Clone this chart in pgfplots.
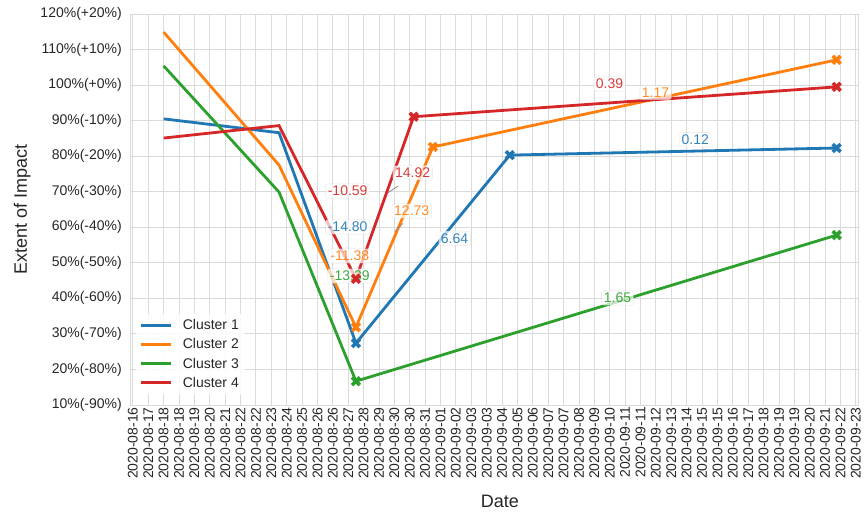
\documentclass[border=0pt]{standalone}
\usepackage{pgfplots}
\pgfplotsset{compat=1.18}
\usepackage{fontspec}
\setmainfont{Liberation Sans}
\usetikzlibrary{calc}
\definecolor{c1}{HTML}{1F77B4}
\definecolor{c2}{HTML}{FF7F0E}
\definecolor{c3}{HTML}{2CA02C}
\definecolor{c4}{HTML}{D62728}
\definecolor{gridc}{HTML}{DADADA}
\definecolor{txt}{HTML}{262626}
\tikzset{ann/.style={fill=white, fill opacity=0.7, text opacity=0.9, draw=black!20, draw opacity=0.5, rounded corners=2bp, inner sep=2.2bp, font=\fontsize{14bp}{14bp}\selectfont}}
\begin{document}
\begin{tikzpicture}
\begin{axis}[name=ax, scale only axis, width=728bp, height=391bp,
  xmin=16.25, xmax=54.11, ymin=10, ymax=120,
  xtick={16.4,17.2,18.0,18.8,19.6,20.4,21.2,22.0,22.8,23.6,24.4,25.2,26.0,26.8,27.6,28.4,29.2,30.0,30.8,31.6,32.4,33.2,34.0,34.8,35.6,36.4,37.2,38.0,38.8,39.6,40.4,41.2,42.0,42.8,43.6,44.4,45.2,46.0,46.8,47.6,48.4,49.2,50.0,50.8,51.6,52.4,53.2,54.0},
  xticklabels={2020-08-16,2020-08-17,2020-08-18,2020-08-18,2020-08-19,2020-08-20,2020-08-21,2020-08-22,2020-08-22,2020-08-23,2020-08-24,2020-08-25,2020-08-26,2020-08-26,2020-08-27,2020-08-28,2020-08-29,2020-08-30,2020-08-30,2020-08-31,2020-09-01,2020-09-02,2020-09-03,2020-09-03,2020-09-04,2020-09-05,2020-09-06,2020-09-07,2020-09-07,2020-09-08,2020-09-09,2020-09-10,2020-09-11,2020-09-11,2020-09-12,2020-09-13,2020-09-14,2020-09-15,2020-09-15,2020-09-16,2020-09-17,2020-09-18,2020-09-19,2020-09-19,2020-09-20,2020-09-21,2020-09-22,2020-09-23},
  ytick={10,20,30,40,50,60,70,80,90,100,110,120},
  yticklabels={10\%(-90\%),20\%(-80\%),30\%(-70\%),40\%(-60\%),50\%(-50\%),60\%(-40\%),70\%(-30\%),80\%(-20\%),90\%(-10\%),100\%(+0\%),110\%(+10\%),120\%(+20\%)},
  grid=major, major grid style={draw=gridc, line width=0.9bp},
  axis line style={draw=gridc, line width=0.9bp},
  major tick length=0pt, tick style={draw=none},
  xticklabel style={rotate=90, anchor=east, font=\fontsize{14bp}{14bp}\selectfont, text=txt, inner sep=2bp},
  yticklabel style={font=\fontsize{14bp}{14bp}\selectfont, text=txt, inner sep=2bp, xshift=-6bp},
  xlabel={Date}, ylabel={Extent of Impact},
  xlabel style={at={(axis description cs:0.508,-0.247)}, anchor=center, font=\fontsize{18bp}{18bp}\selectfont, text=txt},
  ylabel style={at={(axis description cs:-0.148,0.5)}, anchor=center, font=\fontsize{18bp}{18bp}\selectfont, text=txt},
  legend style={at={(axis description cs:0.008,0.026)}, anchor=south west, draw=none, fill=white, fill opacity=0.85, text opacity=1, rounded corners=2bp, font=\fontsize{14bp}{14bp}\selectfont, text=txt, row sep=3.5bp, inner xsep=4bp, inner ysep=4bp},
  legend cell align=left,
  legend image code/.code={\draw[#1] (0bp,0bp) -- (30bp,0bp); \path (38bp,0bp);},
  every axis plot/.append style={line width=2.8bp},
]
\addplot[c1, mark=x, mark size=5.5bp, mark indices={3,4,5}, mark options={line width=3.6bp}] coordinates {(18,90.5) (24,86.6) (28,27.4) (36,80.3) (53,82.3)};
\addlegendentry{Cluster 1}
\addplot[c2, mark=x, mark size=5.5bp, mark indices={3,4,5}, mark options={line width=3.6bp}] coordinates {(18,114.9) (24,77.5) (28,31.9) (32,82.6) (53,107.1)};
\addlegendentry{Cluster 2}
\addplot[c3, mark=x, mark size=5.5bp, mark indices={3,4}, mark options={line width=3.6bp}] coordinates {(18,105.4) (24,69.9) (28,16.7) (53,57.8)};
\addlegendentry{Cluster 3}
\addplot[c4, mark=x, mark size=5.5bp, mark indices={3,4,5}, mark options={line width=3.6bp}] coordinates {(18,85.1) (24,88.6) (28,45.5) (31,91.1) (53,99.5)};
\addlegendentry{Cluster 4}
\draw[black!45, line width=0.8bp] (axis cs:29.67,69.73) -- (axis cs:30.19,71.6);
\draw[black!45, line width=0.8bp] (axis cs:30.02,58.75) -- (axis cs:30.45,61.1);
\node[ann, text=c4] at (axis cs:27.57,70.2) {-10.59};
\node[ann, text=c4] at (axis cs:30.95,75.3) {14.92};
\node[ann, text=c1] at (axis cs:27.57,60.1) {-14.80};
\node[ann, text=c2] at (axis cs:30.9,64.6) {12.73};
\node[ann, text=c1] at (axis cs:33.13,56.9) {6.64};
\node[ann, text=c2] at (axis cs:27.68,51.9) {-11.38};
\node[ann, text=c3] at (axis cs:27.68,46.3) {-13.39};
\node[ann, text=c4] at (axis cs:41.19,100.3) {0.39};
\node[ann, text=c2] at (axis cs:43.58,97.9) {1.17};
\node[ann, text=c1] at (axis cs:45.65,84.6) {0.12};
\node[ann, text=c3] at (axis cs:41.6,40.1) {1.65};
\end{axis}
\pgfresetboundingbox
\path[use as bounding box] ($(ax.south west)+(-130bp,-107bp)$) rectangle ($(ax.north east)+(9bp,14bp)$);
\end{tikzpicture}
\end{document}
